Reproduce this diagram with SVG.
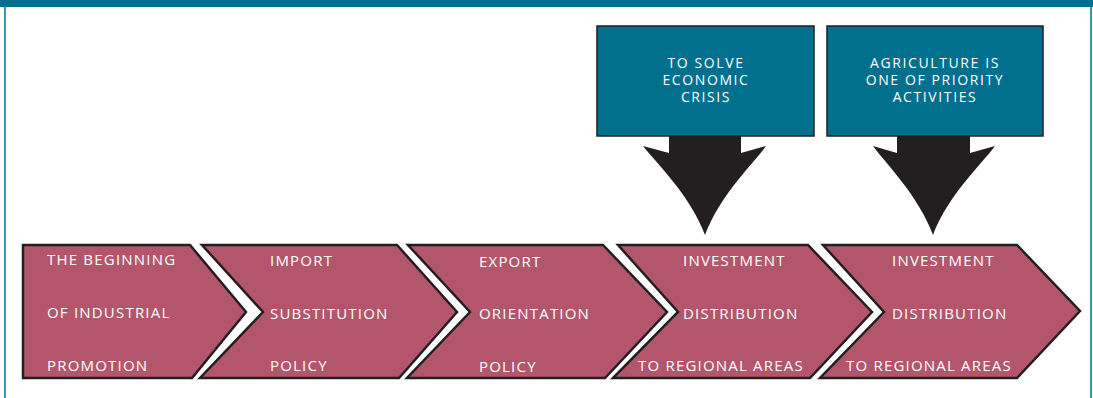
<svg xmlns="http://www.w3.org/2000/svg" width="1093" height="398" viewBox="0 0 1093 398">
<style>
.chev{fill:#b4566b;stroke:#231f20;stroke-width:2.5;stroke-linejoin:miter}
.box{fill:#00708e;stroke:#231f20;stroke-width:1.5}
.arr{fill:#231f20}
.ct{font-family:"Open Sans","Liberation Sans",sans-serif;font-size:15px;fill:#ffffff;letter-spacing:1.2px}
.bt{font-family:"Open Sans","Liberation Sans",sans-serif;font-size:14px;fill:#ffffff;letter-spacing:1.6px;text-anchor:middle}
</style>
<rect x="0" y="0" width="1093" height="398" fill="#ffffff"/>
<rect x="0" y="0" width="1093" height="7" fill="#00708e"/>
<line x1="5" y1="7" x2="5" y2="398" stroke="#00708e" stroke-width="1.5"/>
<line x1="1091" y1="7" x2="1091" y2="398" stroke="#00708e" stroke-width="1.5"/>

<g id="connectors">
<path class="arr" d="M669,136 L741,136 L741,153 L766,146 C752,165 720,195 705,235 C690,195 658,165 643,146 L669,153 Z"/>
<path class="arr" d="M897,136 L970,136 L970,153 L995,146 C981,165 948,195 933,235 C918,195 887,165 873,146 L897,153 Z"/>
</g>

<g id="box1">
<rect class="box" x="597" y="26" width="217" height="110"/>
<text class="bt" x="706" y="68">TO SOLVE</text>
<text class="bt" x="706" y="85">ECONOMIC</text>
<text class="bt" x="706" y="102">CRISIS</text>
</g>
<g id="box2">
<rect class="box" x="827" y="26" width="216" height="110"/>
<text class="bt" x="935" y="68">AGRICULTURE IS</text>
<text class="bt" x="935" y="85">ONE OF PRIORITY</text>
<text class="bt" x="935" y="102">ACTIVITIES</text>
</g>

<g id="step1">
<polygon class="chev" points="23,245 190,245 246,312 192,378 23,378"/>
<text class="ct" x="47" y="265">THE BEGINNING</text>
<text class="ct" x="47" y="318">OF INDUSTRIAL</text>
<text class="ct" x="47" y="371">PROMOTION</text>
</g>
<g id="step2">
<polygon class="chev" points="202,245 397,245 457,312 399,378 200,378 263,312"/>
<text class="ct" x="270" y="266">IMPORT</text>
<text class="ct" x="270" y="319">SUBSTITUTION</text>
<text class="ct" x="270" y="371">POLICY</text>
</g>
<g id="step3">
<polygon class="chev" points="408,245 603,245 667,312 605,378 407,378 470,312"/>
<text class="ct" x="479" y="267">EXPORT</text>
<text class="ct" x="479" y="319">ORIENTATION</text>
<text class="ct" x="479" y="372">POLICY</text>
</g>
<g id="step4">
<polygon class="chev" points="618,245 808,245 872,312 810,378 613,378 678,312"/>
<text class="ct" x="683" y="266">INVESTMENT</text>
<text class="ct" x="683" y="319">DISTRIBUTION</text>
<text class="ct" x="638" y="371">TO REGIONAL AREAS</text>
</g>
<g id="step5">
<polygon class="chev" points="823,245 1017,245 1080,311 1017,378 820,378 884,312"/>
<text class="ct" x="892" y="266">INVESTMENT</text>
<text class="ct" x="892" y="319">DISTRIBUTION</text>
<text class="ct" x="846" y="371">TO REGIONAL AREAS</text>
</g>
</svg>
